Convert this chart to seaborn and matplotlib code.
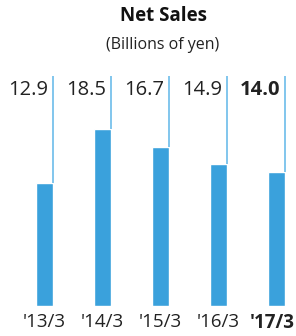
import pandas as pd
import seaborn as sns
import matplotlib.pyplot as plt
import matplotlib.transforms as mtransforms

# Data
periods = ["'13/3", "'14/3", "'15/3", "'16/3", "'17/3"]
net_sales = [12.9, 18.5, 16.7, 14.9, 14.0]
value_labels = ["12.9", "18.5", "16.7", "14.9", "14.0"]

df = pd.DataFrame({"Period": periods, "Sales": net_sales})

bar_color = "#3aa1dc"
line_color = "#5fb6e8"
bar_w = 0.3

sns.set_style("white")
plt.rcParams["font.family"] = ["Open Sans", "DejaVu Sans"]

fig = plt.figure(figsize=(2.96, 3.36), dpi=100)
ax = fig.add_axes([0, 30 / 336, 1, (306 - 76) / 336])

sns.barplot(data=df, x="Period", y="Sales", order=periods, color=bar_color,
            saturation=1, width=bar_w, ax=ax)

ax.set_xlim(-44.5 / 58, (296 - 44.5) / 58)
ax.set_ylim(0, (306 - 76) / 9.55)

# thin guide lines at the right edge of each bar + value labels
for i, (v, lab) in enumerate(zip(net_sales, value_labels)):
    xr = i + bar_w / 2
    ax.plot([xr, xr], [v, ax.get_ylim()[1]], color=line_color, lw=1.1,
            solid_capstyle="butt")
    ax.text(xr - 0.08, (306 - 90) / 9.55, lab, ha="right", va="center",
            fontsize=14.5, color="#222222",
            fontweight="bold" if i == len(periods) - 1 else "normal")

for s in ax.spines.values():
    s.set_visible(False)
ax.set_yticks([])
ax.set_xlabel("")
ax.set_ylabel("")
ax.tick_params(axis="x", length=0, pad=5, labelsize=13.5, labelcolor="#222222")
ax.set_xticks(range(len(periods)))
ax.set_xticklabels(periods)
last = ax.get_xticklabels()[-1]
last.set_fontweight("bold")
last.set_transform(last.get_transform() +
                   mtransforms.ScaledTranslation(-4 / 100, 0, fig.dpi_scale_trans))

fig.text(163 / 296, 1 - 16 / 336, "Net Sales", ha="center", va="center",
         fontsize=13.5, fontweight="bold", color="#111111")
fig.text(163 / 296, 1 - 45 / 336, "(Billions of yen)", ha="center", va="center",
         fontsize=11.5, color="#222222")

fig.savefig("out.png", dpi=100)
